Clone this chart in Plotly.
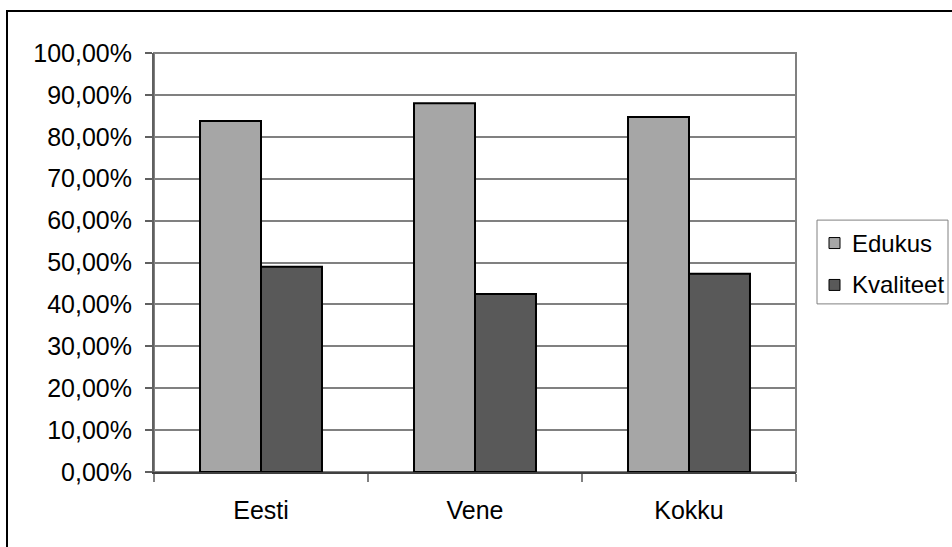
import plotly.graph_objects as go

# Data
categories = ["Eesti", "Vene", "Kokku"]
edukus = [0.838, 0.880, 0.847]
kvaliteet = [0.490, 0.425, 0.473]
series_names = ["Edukus", "Kvaliteet"]
series_colors = ["#A6A6A6", "#595959"]
y_ticks = [i / 10 for i in range(11)]

FONT = "Liberation Sans, Arial, sans-serif"

# plot area in pixels: x 154..796, y 52.5..472.5
L, R, T, B = 154, 796, 52.5, 472.5
W, H = R - L, B - T


def px_x(p):
    return (p - L) / W


def px_y(p):
    return (B - p) / H


fig = go.Figure()
for name, vals, col in zip(series_names, [edukus, kvaliteet], series_colors):
    fig.add_trace(go.Bar(
        x=categories, y=vals, name=name, showlegend=False,
        marker=dict(color=col, line=dict(color="#000000", width=2)),
    ))

# plot-area frame (top/right) and outer chart border
fig.add_shape(type="rect", xref="paper", yref="paper", x0=0, x1=1, y0=0, y1=1,
              line=dict(color="#808080", width=2), layer="below")
fig.add_shape(type="rect", xref="paper", yref="paper", x0=px_x(7), x1=1.6,
              y0=-0.6, y1=px_y(10.5), line=dict(color="#000000", width=2))

# legend box with swatches and labels
fig.add_shape(type="rect", xref="paper", yref="paper",
              x0=px_x(817), x1=px_x(948), y0=px_y(304), y1=px_y(220),
              line=dict(color="#808080", width=1), fillcolor="white")
for i, (name, col) in enumerate(zip(series_names, series_colors)):
    cy = 243 + 42 * i
    fig.add_shape(type="rect", xref="paper", yref="paper",
                  x0=px_x(829), x1=px_x(840), y0=px_y(cy + 5.5), y1=px_y(cy - 5.5),
                  line=dict(color="#000000", width=1), fillcolor=col)
    fig.add_annotation(xref="paper", yref="paper", x=px_x(850), y=px_y(cy),
                       xanchor="left", yanchor="middle", text=name, showarrow=False,
                       font=dict(family=FONT, size=24, color="#000000"))

fig.update_layout(
    width=952, height=547,
    margin=dict(l=L, r=952 - R, t=T, b=547 - B),
    paper_bgcolor="white", plot_bgcolor="white",
    separators=",.",
    barmode="group", bargap=0.43, bargroupgap=0,
    font=dict(family=FONT, size=25, color="#000000"),
    showlegend=False,
    xaxis=dict(
        type="category", showgrid=False, showline=True, linecolor="#404040",
        linewidth=2, ticks="outside", tickson="boundaries", ticklen=8,
        tickcolor="#808080", tickwidth=2, ticklabelstandoff=15,
        tickfont=dict(size=25),
    ),
    yaxis=dict(
        range=[0, 1], tickvals=y_ticks, tickformat=".2%",
        showgrid=True, gridcolor="#808080", gridwidth=1.5,
        showline=True, linecolor="#606060", linewidth=2,
        ticks="outside", ticklen=7, tickcolor="#606060", tickwidth=2,
        ticklabelstandoff=8, zeroline=False, tickfont=dict(size=25),
    ),
)

fig.write_html("out.html")
